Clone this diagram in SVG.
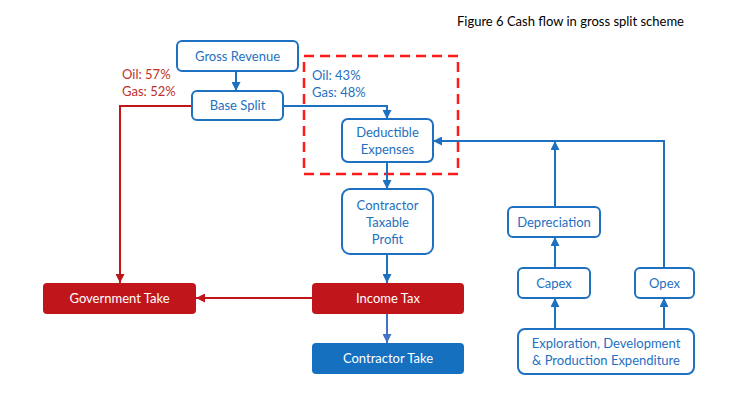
<svg xmlns="http://www.w3.org/2000/svg" width="746" height="414" viewBox="0 0 746 414">
<defs>
<style>
.bx{fill:#fff;stroke:#1E70C1;stroke-width:2}
.bt{font-family:Lato,"Open Sans","Liberation Sans",sans-serif;font-size:13px;fill:#1E70C1;text-anchor:middle}
.wt{font-family:Lato,"Open Sans","Liberation Sans",sans-serif;font-size:13px;fill:#fff;text-anchor:middle}
.cb{fill:none;stroke:#1E70C1;stroke-width:2}
.cr{fill:none;stroke:#C0151A;stroke-width:2}
.lb{font-family:Lato,"Open Sans","Liberation Sans",sans-serif;font-size:13px;fill:#1E70C1}
.lr{font-family:Lato,"Open Sans","Liberation Sans",sans-serif;font-size:13px;fill:#C0302A}
</style>
<marker id="ab" viewBox="0 0 10 10" refX="10" refY="5" markerWidth="4.5" markerHeight="4.5" orient="auto"><path d="M0,0L10,5L0,10z" fill="#1E70C1"/></marker>
<marker id="al" viewBox="0 0 10 10" refX="10" refY="5" markerWidth="4.5" markerHeight="4.5" orient="auto"><path d="M0,0L10,5L0,10z" fill="#4472C4"/></marker>
<marker id="ar" viewBox="0 0 10 10" refX="10" refY="5" markerWidth="4.5" markerHeight="4.5" orient="auto"><path d="M0,0L10,5L0,10z" fill="#C0151A"/></marker>
</defs>
<rect width="746" height="414" fill="#fff"/>
<text x="684" y="26" font-family="Lato,'Open Sans','Liberation Sans',sans-serif" font-size="13" fill="#000" text-anchor="end">Figure 6 Cash flow in gross split scheme</text>
<rect id="scope" x="304" y="56" width="154" height="118" fill="none" stroke="#FF1A1A" stroke-width="2.5" stroke-dasharray="10,6"/>
<g id="connectors">
<path class="cb" d="M236,71V91" marker-end="url(#ab)"/>
<path class="cb" d="M283,106H387V119" marker-end="url(#ab)"/>
<path class="cr" d="M192,106H120V283" marker-end="url(#ar)"/>
<path class="cb" d="M387,162V189" marker-end="url(#ab)"/>
<path class="cb" d="M387,254V283" marker-end="url(#ab)"/>
<path d="M387,314V343" fill="none" stroke="#4472C4" stroke-width="2" marker-end="url(#al)"/>
<path class="cr" d="M312,298H196" marker-end="url(#ar)"/>
<path class="cb" d="M664,268V141H433" marker-end="url(#ab)"/>
<path class="cb" d="M555,207V141" marker-end="url(#ab)"/>
<path class="cb" d="M555,268V237" marker-end="url(#ab)"/>
<path class="cb" d="M555,329V298" marker-end="url(#ab)"/>
<path class="cb" d="M664,329V298" marker-end="url(#ab)"/>
</g>
<g id="labels">
<text class="lr" x="122" y="79">Oil: 57%</text>
<text class="lr" x="122" y="96">Gas: 52%</text>
<text class="lb" x="312" y="80">Oil: 43%</text>
<text class="lb" x="312" y="97">Gas: 48%</text>
</g>
<g id="gross-revenue"><rect class="bx" x="177" y="41" width="121" height="30" rx="5"/><text class="bt" x="237.5" y="60.5">Gross Revenue</text></g>
<g id="base-split"><rect class="bx" x="192" y="91" width="91" height="29" rx="5"/><text class="bt" x="237.5" y="110">Base Split</text></g>
<g id="deductible"><rect class="bx" x="342" y="119" width="91" height="43" rx="6"/><text class="bt" x="387.5" y="137">Deductible</text><text class="bt" x="387.5" y="154">Expenses</text></g>
<g id="taxable-profit"><rect class="bx" x="342" y="189" width="91" height="65" rx="8"/><text class="bt" x="387.5" y="210">Contractor</text><text class="bt" x="387.5" y="227">Taxable</text><text class="bt" x="387.5" y="244">Profit</text></g>
<g id="government-take"><rect x="43" y="283" width="153" height="31" rx="4" fill="#C0151A"/><text class="wt" x="119.5" y="303">Government Take</text></g>
<g id="income-tax"><rect x="312" y="283" width="152" height="31" rx="4" fill="#C0151A"/><text class="wt" x="388" y="303">Income Tax</text></g>
<g id="contractor-take"><rect x="312" y="343" width="152" height="31" rx="4" fill="#1570C0"/><text class="wt" x="388" y="363">Contractor Take</text></g>
<g id="depreciation"><rect class="bx" x="508" y="207" width="92" height="30" rx="5"/><text class="bt" x="554" y="226.5">Depreciation</text></g>
<g id="capex"><rect class="bx" x="518" y="268" width="72" height="30" rx="5"/><text class="bt" x="554" y="287.5">Capex</text></g>
<g id="opex"><rect class="bx" x="635" y="268" width="59" height="30" rx="5"/><text class="bt" x="664.5" y="287.5">Opex</text></g>
<g id="expenditure"><rect class="bx" x="518" y="329" width="176" height="45" rx="7"/><text class="bt" x="606" y="348">Exploration, Development</text><text class="bt" x="606" y="365">&amp; Production Expenditure</text></g>
</svg>
